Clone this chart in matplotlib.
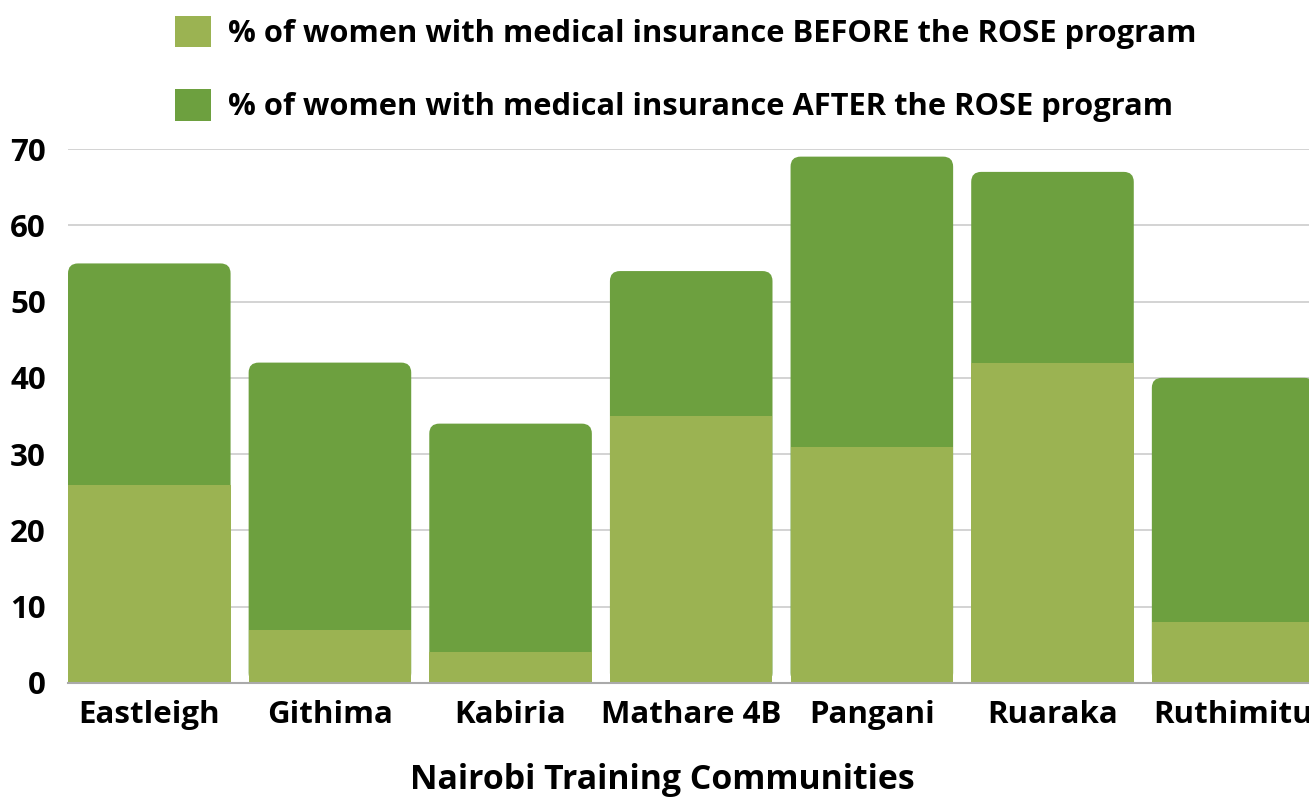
import matplotlib
matplotlib.use("Agg")
import matplotlib.pyplot as plt
from matplotlib.patches import FancyBboxPatch, Patch

communities = ["Eastleigh", "Githima", "Kabiria", "Mathare 4B", "Pangani", "Ruaraka", "Ruthimitu"]
before = [26, 7, 4, 35, 31, 42, 8]
after = [55, 42, 34, 54, 69, 67, 40]
y_ticks = [0, 10, 20, 30, 40, 50, 60, 70]

LIGHT = "#9bb352"
DARK = "#6da03f"
WIDTH = 0.9

plt.rcParams["font.family"] = ["Open Sans", "DejaVu Sans"]
plt.rcParams["font.weight"] = "bold"

fig = plt.figure(figsize=(13.09, 7.99), dpi=100)
ax = fig.add_axes([68 / 1309, 1 - 683 / 799, 1 - 68 / 1309, (683 - 149) / 799])
ax.set_xlim(-0.45, 6.42)
ax.set_ylim(0, 70)

# aspect so the corner radius looks round in pixels
px_x = 180.5
px_y = 534 / 70
aspect = px_x / px_y
r = 10 / px_x

for i, v in enumerate(after):
    box = FancyBboxPatch((i - WIDTH / 2, 0), WIDTH, v,
                         boxstyle=f"round,pad=0,rounding_size={r}",
                         mutation_aspect=aspect, facecolor=DARK,
                         edgecolor="none", zorder=2)
    ax.add_patch(box)
ax.bar(range(len(before)), before, width=WIDTH, color=LIGHT, zorder=3)

ax.set_yticks(y_ticks)
ax.set_xticks(range(len(communities)))
ax.set_xticklabels(communities)
ax.tick_params(axis="both", length=0, labelsize=22.5, colors="black")
ax.tick_params(axis="y", pad=16)
ax.tick_params(axis="x", pad=12)

ax.grid(axis="y", color="#cccccc", linewidth=1.2, zorder=0)
ax.set_axisbelow(True)
for s in ["top", "right", "left"]:
    ax.spines[s].set_visible(False)
ax.spines["bottom"].set_color("#aaaaaa")
ax.spines["bottom"].set_linewidth(1.5)
ax.spines["bottom"].set_zorder(4)

fig.text(662 / 1309, 1 - 780 / 799, "Nairobi Training Communities",
         ha="center", va="center", fontsize=24.4, fontweight="bold")

handles = [Patch(facecolor=LIGHT, label="% of women with medical insurance BEFORE the ROSE program"),
           Patch(facecolor=DARK, label="% of women with medical insurance AFTER the ROSE program")]
fig.legend(handles=handles, loc="upper left", bbox_to_anchor=(159 / 1309, 1.0),
           frameon=False, fontsize=22.2, handlelength=1.18, handleheight=1.18,
           handletextpad=0.55, labelspacing=1.31, borderaxespad=0.12)

fig.savefig("out.png", dpi=100)
